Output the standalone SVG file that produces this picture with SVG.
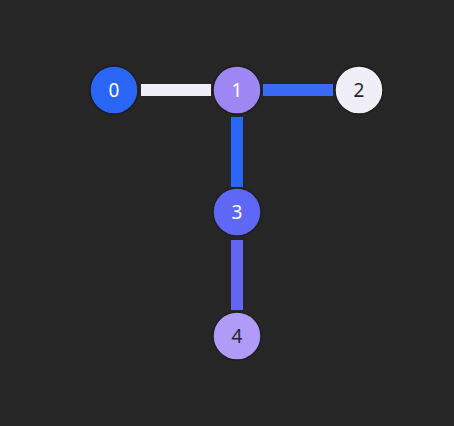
<svg xmlns="http://www.w3.org/2000/svg" width="454" height="426" viewBox="0 0 454 426">
<style>
.e{stroke-width:12;stroke-linecap:butt}
.n{stroke:#1e1e1e;stroke-width:1.5}
text{font-family:"Noto Sans","Open Sans",sans-serif;font-size:19px;text-anchor:middle;dominant-baseline:central}
.w{fill:#ffffff}.d{fill:#262626}
</style>
<rect width="454" height="426" fill="#262626"/>
<g id="edges">
<line class="e" x1="141" y1="90" x2="211" y2="90" stroke="#f0eef6"/>
<line class="e" x1="263" y1="90" x2="333" y2="90" stroke="#3d6af5"/>
<line class="e" x1="237" y1="117" x2="237" y2="187" stroke="#2a66f8"/>
<line class="e" x1="237" y1="240" x2="237" y2="310" stroke="#6366f1"/>
</g>
<g id="node0"><circle class="n" cx="114" cy="90" r="24" fill="#2a66f5"/><text class="w" x="114" y="90">0</text></g>
<g id="node1"><circle class="n" cx="237" cy="90" r="24" fill="#9e87f2"/><text class="w" x="237" y="90">1</text></g>
<g id="node2"><circle class="n" cx="359" cy="90" r="24" fill="#f0eef6"/><text class="d" x="359" y="90">2</text></g>
<g id="node3"><circle class="n" cx="237" cy="212" r="24" fill="#5f68f5"/><text class="w" x="237" y="212">3</text></g>
<g id="node4"><circle class="n" cx="237" cy="336" r="24" fill="#b09cf8"/><text class="d" x="237" y="336">4</text></g>
</svg>
